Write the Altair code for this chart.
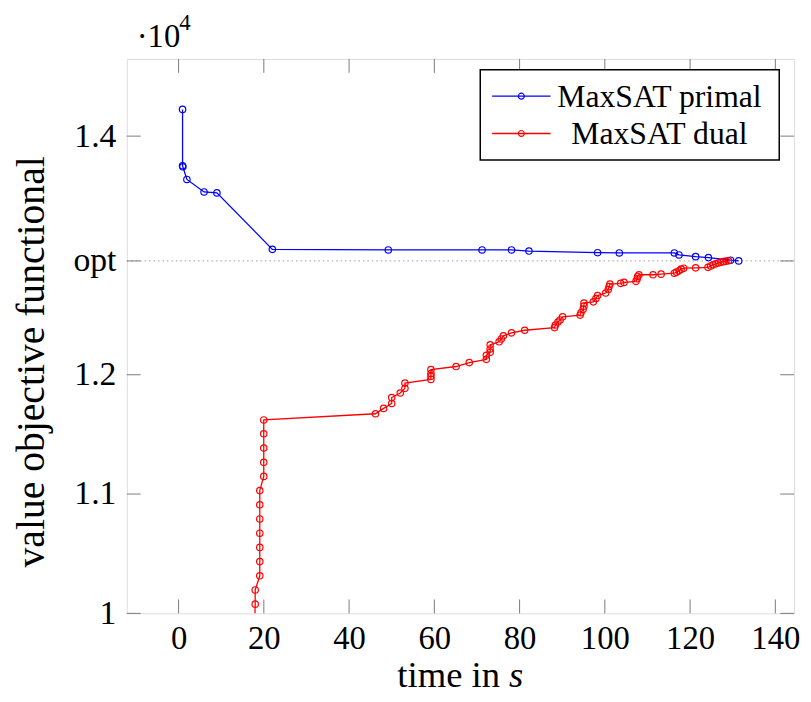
import altair as alt
import pandas as pd

# ---------------- data ----------------
blue_x = [0.93, 0.93, 1.0, 1.95, 5.97, 8.99, 22.0, 49.2, 71.2, 78.1, 82.2, 98.3,
          103.4, 116.3, 117.4, 121.3, 124.3, 129.5, 131.4]
blue_y = [14224, 13752, 13743, 13637, 13532, 13524, 13051, 13046, 13046, 13046, 13037,
          13023, 13021, 13021, 13004, 12990, 12982, 12960, 12954]

red_x = [17.9, 17.97, 17.97, 19.05, 19.05, 19.05, 19.05, 19.05, 19.05, 19.05,
         19.98, 19.98, 19.98, 19.98, 19.98, 46.2, 48.1, 50.0, 50.0, 52.0, 53.1, 53.1,
         59.2, 59.2, 59.2, 59.2, 65.1, 68.2, 72.2, 72.2, 73.1, 73.1, 73.1, 75.2, 75.7,
         76.2, 78.1, 81.2, 88.2, 88.4, 89.0, 89.5, 90.1, 94.2, 94.4, 94.9, 95.1, 95.1,
         97.3, 97.9, 98.3, 100.2, 100.8, 101.0, 101.2, 103.7, 104.5, 107.3, 107.6, 107.7,
         108.0, 111.3, 113.2, 116.3, 116.8, 117.4, 117.9, 118.5, 121.3, 124.2, 124.8,
         125.4, 126.0, 126.6, 127.2, 127.8, 128.4, 129.0]
red_y = [9958, 10077, 10196, 10315, 10434, 10553, 10672, 10791, 10910, 11029,
         11148, 11266, 11386, 11505, 11621, 11673, 11718, 11759, 11809, 11847, 11886, 11930,
         11961, 11987, 12010, 12044, 12069, 12102, 12129, 12163, 12188, 12216, 12251, 12276, 12300,
         12326, 12351, 12373, 12395, 12417, 12442, 12459, 12486, 12500, 12520, 12548, 12575, 12600,
         12611, 12639, 12664, 12685, 12714, 12739, 12760, 12766, 12774, 12783, 12805, 12824,
         12838, 12838, 12843, 12851, 12860, 12871, 12885, 12893, 12896, 12900, 12912,
         12921, 12930, 12937, 12943, 12948, 12952, 12955]

series_names = ["MaxSAT primal", "MaxSAT dual"]
series_colors = ["#0000ff", "#ff0000"]
x_ticks = [0, 20, 40, 60, 80, 100, 120, 140]
opt_value = 12954
y_ticks = [10000, 11000, 12000, opt_value, 14000]
x_title = "time in"
x_title_var = "s"
y_title = "value objective functional"
exp_base = "\u00b710"
exp_pow = "4"

# ---------------- layout ----------------
W, H = 674, 560
FONT = "Liberation Serif"
TICK = "#7a7a7a"

xs = alt.Scale(domain=[-12.15, 144.4], nice=False, zero=False)
ys = alt.Scale(domain=[10000, 14647], nice=False, zero=False)

x_axis = alt.Axis(values=x_ticks, title=None, domain=False, ticks=False, grid=False,
                  labelFont=FONT, labelFontSize=33, labelColor="black", labelPadding=10,
                  labelFlush=False, labelOverlap=False)
y_axis = alt.Axis(values=y_ticks, title=None, domain=False, ticks=False, grid=False,
                  labelFont=FONT, labelFontSize=34, labelColor="black", labelPadding=11,
                  labelOverlap=False,
                  labelExpr=f"datum.value == {opt_value} ? 'opt' : datum.value == 10000 ? '1' : format(datum.value / 10000, '.1f')")

rows = []
for i, (xv, yv) in enumerate(zip(blue_x, blue_y)):
    rows.append({"x": xv, "y": yv, "series": series_names[0], "idx": i})
for i, (xv, yv) in enumerate(zip(red_x, red_y)):
    rows.append({"x": xv, "y": yv, "series": series_names[1], "idx": i})
df = pd.DataFrame(rows)

X = alt.X("x:Q", scale=xs, axis=x_axis)
Y = alt.Y("y:Q", scale=ys, axis=y_axis)
color = alt.Color("series:N", scale=alt.Scale(domain=series_names, range=series_colors), legend=None)

lines = alt.Chart(df).mark_line(clip=True, strokeWidth=1.3).encode(
    x=X, y=Y, color=color, order="idx:Q")
points = alt.Chart(df).mark_point(shape="circle", filled=False, size=42, strokeWidth=1.2,
                                  clip=True, opacity=1).encode(x=X, y=Y, color=color)

xt = pd.DataFrame({"x": x_ticks})
yt = pd.DataFrame({"y": y_ticks})
tick_b = alt.Chart(xt).mark_rule(color=TICK, strokeWidth=1).encode(x=X, y=alt.value(H), y2=alt.value(H - 14))
tick_t = alt.Chart(xt).mark_rule(color=TICK, strokeWidth=1).encode(x=X, y=alt.value(0), y2=alt.value(14))
tick_l = alt.Chart(yt).mark_rule(color=TICK, strokeWidth=1).encode(y=Y, x=alt.value(0), x2=alt.value(14))
tick_r = alt.Chart(yt).mark_rule(color=TICK, strokeWidth=1).encode(y=Y, x=alt.value(W), x2=alt.value(W - 14))

opt_df = pd.DataFrame({"y": [opt_value]})
opt_line = alt.Chart(opt_df).mark_rule(color="#b0b0b0", strokeWidth=1.2, strokeDash=[1.5, 3]).encode(
    y=Y, x=alt.value(0), x2=alt.value(W))

one = pd.DataFrame({"a": [0]})
legend_box = alt.Chart(one).mark_rect(fill="white", stroke="black", strokeWidth=1.5).encode(
    x=alt.value(357), x2=alt.value(659), y=alt.value(11), y2=alt.value(102))
legend_layers = [legend_box]
for i, (name, col) in enumerate(zip(series_names, series_colors)):
    ry = 37.6 + i * 37.7
    legend_layers.append(alt.Chart(one).mark_rule(color=col, strokeWidth=1.3).encode(
        x=alt.value(369), x2=alt.value(428), y=alt.value(ry)))
    legend_layers.append(alt.Chart(one).mark_point(shape="circle", filled=False, size=36,
                                                   strokeWidth=1.2, color=col, opacity=1).encode(
        x=alt.value(398.5), y=alt.value(ry)))
    legend_layers.append(alt.Chart(one).mark_text(font=FONT, fontSize=32, align="center",
                                                  baseline="middle", color="black").encode(
        x=alt.value(538), y=alt.value(ry + 1), text=alt.value(name)))

xtitle_a = alt.Chart(one).mark_text(font=FONT, fontSize=37, align="right", baseline="alphabetic",
                                    color="black").encode(
    x=alt.value(377), y=alt.value(634), text=alt.value(x_title))
xtitle_b = alt.Chart(one).mark_text(font=FONT, fontSize=37, fontStyle="italic", align="left",
                                    baseline="alphabetic", color="black").encode(
    x=alt.value(386), y=alt.value(634), text=alt.value(x_title_var))
ytitle = alt.Chart(one).mark_text(font=FONT, fontSize=40, align="center", baseline="alphabetic",
                                  angle=270, color="black").encode(
    x=alt.value(-84), y=alt.value(306), text=alt.value(y_title))
exp_a = alt.Chart(one).mark_text(font=FONT, fontSize=33, align="left", baseline="alphabetic",
                                 color="black").encode(
    x=alt.value(10), y=alt.value(-12), text=alt.value(exp_base))
exp_b = alt.Chart(one).mark_text(font=FONT, fontSize=23, align="left", baseline="alphabetic",
                                 color="black").encode(
    x=alt.value(53), y=alt.value(-29), text=alt.value(exp_pow))

chart = alt.layer(
    opt_line, tick_b, tick_t, tick_l, tick_r, lines, points,
    *legend_layers, xtitle_a, xtitle_b, ytitle, exp_a, exp_b
).properties(
    width=W, height=H,
    autosize=alt.AutoSizeParams(type="none"),
    padding={"left": 120, "top": 48, "right": 9, "bottom": 78},
).configure_view(stroke="black", strokeWidth=1.5).configure(background="white")

chart.save("out.html", embed_options={"renderer": "svg", "actions": False})
